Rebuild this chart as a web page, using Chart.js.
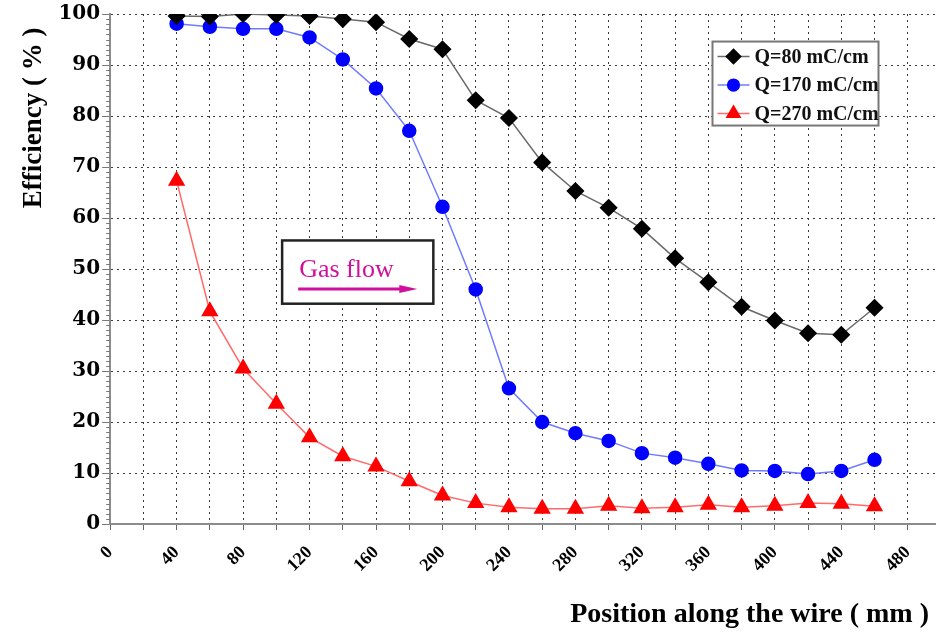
<!DOCTYPE html>
<html>
<head>
<meta charset="utf-8">
<script src="https://cdn.jsdelivr.net/npm/chart.js@4/dist/chart.umd.min.js"></script>
<style>
  html, body { margin: 0; padding: 0; background: #fff; }
  #wrap { width: 936px; height: 632px; position: relative; }
</style>
</head>
<body>
<div id="wrap"><canvas id="effChart"></canvas></div>
<script>
// Position along the wire (mm)
const positions = [40, 60, 80, 100, 120, 140, 160, 180, 200, 220, 240,
                   260, 280, 300, 320, 340, 360, 380, 400, 420, 440, 460];

// Efficiency (%) for each accumulated charge
const effQ80 = [99.6, 99.5, 100.0, 99.8, 99.6, 99.0, 98.4, 95.1, 93.1, 83.1, 79.6,
                70.9, 65.3, 62.0, 57.9, 52.1, 47.4, 42.6, 39.9, 37.4, 37.1, 42.4];
const effQ170 = [98.1, 97.5, 97.1, 97.1, 95.4, 91.1, 85.4, 77.1, 62.2, 46.0, 26.6,
                 20.0, 17.8, 16.3, 13.9, 13.0, 11.8, 10.5, 10.4, 9.8, 10.4, 12.6];
const effQ270 = [67.3, 41.7, 30.5, 23.6, 17.0, 13.3, 11.3, 8.4, 5.6, 4.1, 3.3,
                 3.0, 3.0, 3.6, 3.1, 3.3, 3.8, 3.3, 3.6, 4.1, 4.0, 3.5];

const seriesLabels = ['Q=80 mC/cm', 'Q=170 mC/cm', 'Q=270 mC/cm'];
const xTickLabels = [0, 40, 80, 120, 160, 200, 240, 280, 320, 360, 400, 440, 480];
const yTickLabels = [0, 10, 20, 30, 40, 50, 60, 70, 80, 90, 100];

const toPoints = (ys) => ys.map((y, i) => ({ x: positions[i], y: y }));

// minor ticks on the y axis, one per percent
const minorTicks = {
    id: 'minorTicks',
    afterDraw(chart) {
        const ys = chart.scales.y;
        const ctx = chart.ctx;
        ctx.save();
        ctx.strokeStyle = '#777';
        ctx.lineWidth = 1;
        ctx.beginPath();
        for (let v = 0; v <= 100; v++) {
            if (v % 10 === 0) continue;
            const py = Math.round(ys.getPixelForValue(v)) + 0.5;
            ctx.moveTo(ys.right - 4, py);
            ctx.lineTo(ys.right, py);
        }
        ctx.stroke();
        ctx.restore();
    }
};

// "Gas flow" box with its arrow
const gasFlowBox = {
    id: 'gasFlowBox',
    afterDatasetsDraw(chart) {
        const { ctx, scales: { x, y } } = chart;
        const x1 = x.getPixelForValue(103.5), x2 = x.getPixelForValue(194.5);
        const y1 = y.getPixelForValue(55.6), y2 = y.getPixelForValue(43.2);
        ctx.save();
        ctx.fillStyle = '#fff';
        ctx.fillRect(x1, y1, x2 - x1, y2 - y1);
        ctx.strokeStyle = '#222';
        ctx.lineWidth = 2.5;
        ctx.strokeRect(x1, y1, x2 - x1, y2 - y1);

        ctx.fillStyle = '#d0109c';
        ctx.font = '26px "Liberation Serif"';
        ctx.textBaseline = 'alphabetic';
        ctx.fillText('Gas flow', x1 + 17, y.getPixelForValue(48.4));

        const ay = y.getPixelForValue(46.1);
        const ax1 = x1 + 16, ax2 = x2 - 16;
        ctx.strokeStyle = '#d0109c';
        ctx.lineWidth = 3;
        ctx.beginPath();
        ctx.moveTo(ax1, ay);
        ctx.lineTo(ax2 - 10, ay);
        ctx.stroke();
        ctx.beginPath();
        ctx.moveTo(ax2, ay);
        ctx.lineTo(ax2 - 18, ay - 4);
        ctx.lineTo(ax2 - 18, ay + 4);
        ctx.closePath();
        ctx.fill();
        ctx.restore();
    }
};

// legend box inside the plot, top right
const innerLegend = {
    id: 'innerLegend',
    afterDatasetsDraw(chart) {
        const { ctx, scales: { x, y } } = chart;
        const bx = x.getPixelForValue(362.5), by = y.getPixelForValue(94.6);
        const bw = 166, bh = 84;
        ctx.save();
        ctx.fillStyle = '#fff';
        ctx.fillRect(bx, by, bw, bh);
        ctx.strokeStyle = '#777';
        ctx.lineWidth = 2;
        ctx.strokeRect(bx, by, bw, bh);
        ctx.textBaseline = 'middle';
        chart.data.datasets.forEach((ds, i) => {
            const ly = by + 15 + i * 28.5;
            ctx.strokeStyle = ds.borderColor;
            ctx.lineWidth = 1.5;
            ctx.beginPath();
            ctx.moveTo(bx + 5, ly);
            ctx.lineTo(bx + 37, ly);
            ctx.stroke();
            ctx.fillStyle = ds.pointBackgroundColor;
            ctx.strokeStyle = ds.pointBorderColor;
            Chart.helpers.drawPoint(ctx, {
                pointStyle: ds.pointStyle,
                radius: ds.pointRadius * 0.9,
                borderWidth: 1
            }, bx + 21, ly);
            ctx.fillStyle = '#111';
            ctx.font = 'bold 20px "Liberation Serif"';
            ctx.fillText(ds.label, bx + 42, ly + 1);
        });
        ctx.restore();
    }
};

const ctx = document.getElementById('effChart').getContext('2d');

const effChart = new Chart(ctx, {
    type: 'line',
    data: {
        datasets: [
            {
                label: seriesLabels[0],
                data: toPoints(effQ80),
                borderColor: '#6a6a6a',
                borderWidth: 1.5,
                pointStyle: 'rectRot',
                pointRadius: 8,
                pointBackgroundColor: '#000',
                pointBorderColor: '#000',
                tension: 0
            },
            {
                label: seriesLabels[1],
                data: toPoints(effQ170),
                borderColor: '#6f7bff',
                borderWidth: 1.5,
                pointStyle: 'circle',
                pointRadius: 6.5,
                pointBackgroundColor: '#0000ff',
                pointBorderColor: '#0000ff',
                tension: 0
            },
            {
                label: seriesLabels[2],
                data: toPoints(effQ270),
                borderColor: '#ff6b6b',
                borderWidth: 1.5,
                pointStyle: 'triangle',
                pointRadius: 8.5,
                pointBackgroundColor: '#ff0000',
                pointBorderColor: '#ff0000',
                tension: 0
            }
        ]
    },
    options: {
        responsive: true,
        maintainAspectRatio: false,
        animation: false,
        layout: { autoPadding: false, padding: { left: 18, top: 11, right: 0, bottom: 0 } },
        plugins: {
            legend: { display: false },
            tooltip: { enabled: false }
        },
        scales: {
            x: {
                type: 'linear',
                min: 0,
                max: 497,
                afterFit: (scale) => { scale.paddingRight = 0; },
                ticks: {
                    stepSize: 20,
                    includeBounds: false,
                    autoSkip: false,
                    minRotation: 45,
                    maxRotation: 45,
                    padding: 12,
                    color: '#000',
                    font: { family: '"Liberation Serif"', weight: 'bold', size: 18 },
                    callback: (v) => xTickLabels.includes(v) ? String(v) : ''
                },
                grid: { color: '#3a3a3a', lineWidth: 1, tickLength: 6, tickColor: '#666' },
                border: { color: '#8c8c8c', width: 2, dash: [2, 4] },
                title: {
                    display: true,
                    text: 'Position along the wire ( mm ) ',
                    align: 'end',
                    color: '#000',
                    font: { family: '"Liberation Serif"', weight: 'bold', size: 28 },
                    padding: { top: 10, bottom: 0 }
                }
            },
            y: {
                min: 0,
                max: 100,
                ticks: {
                    stepSize: 10,
                    padding: 2,
                    color: '#000',
                    font: { family: '"DejaVu Serif"', weight: 'bold', size: 20 },
                    callback: (v) => yTickLabels.includes(v) ? String(v) : ''
                },
                grid: { color: '#3a3a3a', lineWidth: 1, tickLength: 8, tickColor: '#777' },
                border: { color: '#8c8c8c', width: 2, dash: [2, 4] },
                title: {
                    display: true,
                    text: 'Efficiency ( % )  ',
                    align: 'end',
                    color: '#000',
                    font: { family: '"Liberation Serif"', weight: 'bold', size: 27 },
                    padding: { top: 0, bottom: 6 }
                }
            }
        }
    },
    plugins: [minorTicks, gasFlowBox, innerLegend]
});
</script>
</body>
</html>
